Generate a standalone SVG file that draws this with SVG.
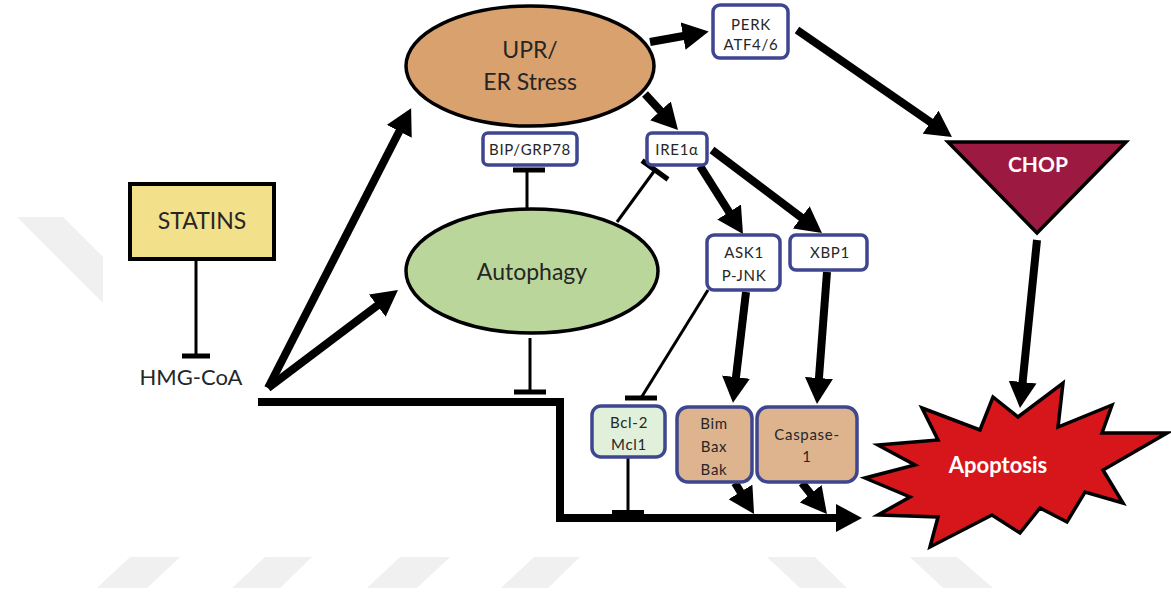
<svg xmlns="http://www.w3.org/2000/svg" width="1171" height="594" viewBox="0 0 1171 594">
<style>
.t{font-family:Lato,"Liberation Sans",sans-serif;fill:#262626;text-anchor:middle}
.big{font-size:23px}
.sm{font-size:15px;letter-spacing:0.7px}
.wh{fill:#ffffff;font-weight:bold}
.box{fill:#ffffff;stroke:#3f4690;stroke-width:3.5}
.thick{stroke:#000;stroke-width:8;fill:none}
.thin{stroke:#000;stroke-width:3;fill:none}
.bar{stroke:#000;stroke-width:5;fill:none}
.wm{fill:#f0f0f0}
</style>
<defs>
<marker id="ah" markerUnits="userSpaceOnUse" viewBox="0 -14 26 28" refX="6" refY="0" markerWidth="26" markerHeight="28" orient="auto">
<path d="M0,-14 L26,0 L0,14 z" fill="#000"/>
</marker>
</defs>
<rect width="1171" height="594" fill="#fff"/>
<g id="watermark">
<polygon class="wm" points="17,217 63,217 103,257 103,303"/>
<polygon class="wm" points="130,557 180,557 147,588 97,588"/>
<polygon class="wm" points="265,557 312,557 280,588 232,588"/>
<polygon class="wm" points="400,557 450,557 417,588 367,588"/>
<polygon class="wm" points="534,557 580,557 548,588 501,588"/>
<polygon class="wm" points="767,557 815,557 847,588 800,588"/>
<polygon class="wm" points="910,557 957,557 993,588 943,588"/>
</g>
<g id="connectors">
<line class="thick" x1="268" y1="388" x2="402" y2="126" marker-end="url(#ah)"/>
<line class="thick" x1="268" y1="388" x2="382" y2="302" marker-end="url(#ah)"/>
<line class="thick" x1="650" y1="42" x2="689" y2="35" marker-end="url(#ah)"/>
<line class="thick" x1="645" y1="94" x2="664.5" y2="115.3" marker-end="url(#ah)"/>
<line class="thick" x1="700" y1="166" x2="732.3" y2="217.1" marker-end="url(#ah)"/>
<line class="thick" x1="712" y1="150" x2="806" y2="221" marker-end="url(#ah)"/>
<line class="thick" x1="797" y1="30" x2="935.5" y2="125.6" marker-end="url(#ah)"/>
<line class="thick" x1="1037" y1="240" x2="1022" y2="388" marker-end="url(#ah)"/>
<line class="thick" x1="746" y1="292" x2="735.3" y2="383" marker-end="url(#ah)"/>
<line class="thick" x1="827" y1="272" x2="818.5" y2="384" marker-end="url(#ah)"/>
<line class="thick" x1="735" y1="483" x2="743.6" y2="497" marker-end="url(#ah)"/>
<line class="thick" x1="802" y1="483" x2="814.4" y2="498.4" marker-end="url(#ah)"/>
<path class="thick" d="M258,402 H560 V518 H842" marker-end="url(#ah)"/>
<line class="thin" x1="196" y1="261" x2="196" y2="356"/>
<line class="bar" x1="182" y1="356" x2="210" y2="356"/>
<line class="thin" x1="530" y1="338" x2="530" y2="392"/>
<line class="bar" x1="514" y1="392" x2="546" y2="392"/>
<line class="thin" x1="527" y1="208" x2="527" y2="170"/>
<line class="bar" x1="513" y1="170" x2="545" y2="170"/>
<line class="thin" x1="617" y1="222" x2="655" y2="170"/>
<line class="bar" x1="642" y1="160.6" x2="668" y2="179.4"/>
<line class="thin" x1="708" y1="290" x2="641" y2="398"/>
<line class="bar" x1="625" y1="398" x2="657" y2="398"/>
<line class="thin" x1="628" y1="457" x2="628" y2="513"/>
<line class="bar" x1="612" y1="513" x2="644" y2="513" style="stroke-width:6"/>
</g>
<g id="statins">
<rect x="130" y="184" width="144" height="75" fill="#f2e08a" stroke="#000" stroke-width="4"/>
<text class="t big" x="202" y="229">STATINS</text>
</g>
<g id="hmgcoa">
<text class="t" x="191" y="385" style="font-size:22px">HMG-CoA</text>
</g>
<g id="upr">
<ellipse cx="530" cy="66" rx="124" ry="60" fill="#d9a16e" stroke="#000" stroke-width="3.5"/>
<text class="t big" x="530" y="58">UPR/</text>
<text class="t big" x="530" y="90">ER Stress</text>
</g>
<g id="autophagy">
<ellipse cx="532" cy="271" rx="126" ry="62" fill="#bad69b" stroke="#000" stroke-width="3.5"/>
<text class="t big" x="532" y="280">Autophagy</text>
</g>
<g id="perk">
<rect class="box" x="713" y="5" width="75" height="53" rx="7"/>
<text class="t sm" x="751" y="30">PERK</text>
<text class="t sm" x="751" y="50">ATF4/6</text>
</g>
<g id="bip">
<rect class="box" x="483" y="133" width="94" height="32" rx="5"/>
<text class="t sm" x="530" y="155">BIP/GRP78</text>
</g>
<g id="ire1a">
<rect class="box" x="647" y="133" width="60" height="32" rx="5"/>
<text class="t sm" x="677" y="155">IRE1α</text>
</g>
<g id="ask1">
<rect class="box" x="707" y="235" width="73" height="55" rx="7"/>
<text class="t sm" x="744" y="258">ASK1</text>
<text class="t sm" x="744" y="281">P-JNK</text>
</g>
<g id="xbp1">
<rect class="box" x="790" y="235" width="77" height="35" rx="6"/>
<text class="t sm" x="830" y="258">XBP1</text>
</g>
<g id="chop">
<polygon points="948,142 1126,142 1037,233" fill="#9c1a41" stroke="#000" stroke-width="3.5" stroke-linejoin="miter"/>
<text class="t wh" x="1038" y="172" style="font-size:21px">CHOP</text>
</g>
<g id="bcl2">
<rect class="box" x="592" y="406" width="73" height="51" rx="9" style="fill:#e1f0da"/>
<text class="t sm" x="629" y="428">Bcl-2</text>
<text class="t sm" x="629" y="450">Mcl1</text>
</g>
<g id="bim">
<rect class="box" x="677" y="407" width="75" height="75" rx="11" style="fill:#deb48f"/>
<text class="t sm" x="714" y="429">Bim</text>
<text class="t sm" x="714" y="452">Bax</text>
<text class="t sm" x="714" y="475">Bak</text>
</g>
<g id="caspase">
<rect class="box" x="757" y="407" width="100" height="75" rx="11" style="fill:#deb48f"/>
<text class="t sm" x="807" y="440">Caspase-</text>
<text class="t sm" x="807" y="462">1</text>
</g>
<g id="apoptosis">
<polygon points="922,408 980,430 993,397 1018,417 1063,383 1058,427 1112,405 1102,433 1167,433 1103,470 1123,503 1085,492 1067,522 1040,508 1020,533 992,515 930,547 938,517 878,515 910,497 865,478 915,465 878,445 938,440" fill="#d7161c" stroke="#000" stroke-width="3.5" stroke-linejoin="miter"/>
<text class="t wh" x="998" y="473" style="font-size:22px">Apoptosis</text>
</g>
</svg>
